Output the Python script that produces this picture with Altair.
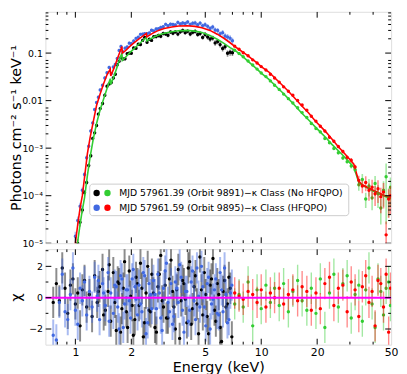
import altair as alt
import pandas as pd

# ---------------- axis ticks / labels ----------------
X_LABELS = [1, 2, 5, 10, 20, 50]
X_MAJOR = [1, 2, 5, 10, 20]
X_MINOR = [0.8, 0.9, 3, 4, 6, 7, 8, 9, 30, 40]
Y_TOP_LABELS = [1e-5, 1e-4, 1e-3, 1e-2, 1e-1]
Y_TOP_TEXT = ["10⁻⁵", "10⁻⁴", "10⁻³", "0.01", "0.1"]
Y_TOP_MINOR = [k * 10.0 ** e for e in range(-5, 0) for k in range(2, 8)]
Y_BOT_LABELS = [-2, 0, 2]
Y_BOT_TEXT = ["−2", "0", "2"]
Y_BOT_MINOR = [-1, 1, 3]

LEGEND_LABELS = ["MJD 57961.39 (Orbit 9891)−κ Class (No HFQPO)",
                 "MJD 57961.59 (Orbit 9895)−κ Class (HFQPO)"]

# ---------------- model curves ----------------
M_E = [0.98, 1.00, 1.03, 1.06, 1.09, 1.12, 1.16, 1.20, 1.25, 1.30,
       1.36, 1.42, 1.48, 1.54, 1.55, 1.62, 1.70, 1.78, 1.79, 1.86,
       1.95, 2.05, 2.20, 2.41, 2.42, 2.60, 2.80, 3.00, 3.30, 3.60,
       4.00, 4.40, 4.80, 5.30, 5.80, 6.30, 6.80, 7.20, 7.60, 8.00,
       8.50, 9.00, 9.50, 10.0, 11.0, 12.0, 13.0, 14.0, 15.0, 16.5,
       18.0, 19.7, 21.0, 22.5, 24.0, 26.0, 28.0, 30.0, 31.5, 33.5,
       35.0, 38.0, 41.0, 44.0, 47.0, 50.0]
M_RED = [5e-6, 1.0e-5, 2.5e-5, 5.5e-5, 1.0e-4, 2.4e-4, 7.6e-4, 1.66e-3, 3.7e-3, 7.9e-3,
         1.4e-2, 2.3e-2, 3.5e-2, 4.6e-2, 3.3e-2, 5.0e-2, 8.5e-2, 0.138, 0.100, 0.112,
         0.135, 0.16, 0.20, 0.26, 0.22, 0.26, 0.30, 0.33, 0.355, 0.37,
         0.375, 0.365, 0.34, 0.30, 0.25, 0.205, 0.165, 0.139, 0.119, 0.103,
         0.087, 0.073, 0.062, 0.052, 0.040, 0.0285, 0.021, 0.0158, 0.0118, 0.0078,
         0.0055, 0.0036, 0.0028, 0.0021, 0.00155, 0.00107, 0.00078, 0.00058, 0.00046, 0.00020,
         0.00017, 0.000145, 0.000125, 0.00011, 0.000098, 0.000089]
M_GREEN = [2e-6, 4e-6, 1.1e-5, 2.5e-5, 5e-5, 9e-5, 2.6e-4, 6.5e-4, 1.6e-3, 3.3e-3,
           6.5e-3, 1.1e-2, 1.8e-2, 2.9e-2, 2.2e-2, 3.4e-2, 6.0e-2, 0.10, 0.070, 0.082,
           0.10, 0.12, 0.155, 0.215, 0.18, 0.21, 0.24, 0.26, 0.28, 0.295,
           0.30, 0.29, 0.27, 0.235, 0.195, 0.16, 0.13, 0.115, 0.098, 0.083,
           0.067, 0.055, 0.046, 0.038, 0.028, 0.020, 0.0148, 0.011, 0.0083, 0.0055,
           0.0039, 0.0027, 0.0021, 0.0016, 0.0012, 0.00088, 0.00066, 0.00049, 0.00040, 0.00019,
           0.000165, 0.00014, 0.00012, 0.000105, 0.000095, 0.000086]

# ---------------- soft data (black / blue) ----------------
D_E = [1.00, 1.03, 1.06, 1.09, 1.12, 1.15, 1.18, 1.21, 1.24, 1.27,
       1.30, 1.33, 1.36, 1.40, 1.44, 1.48, 1.52, 1.56, 1.60, 1.64,
       1.68, 1.72, 1.76, 1.80, 1.85, 1.90, 1.95, 2.00, 2.06, 2.12,
       2.18, 2.24, 2.30, 2.36, 2.43, 2.50, 2.57, 2.64, 2.72, 2.80,
       2.88, 2.97, 3.06, 3.15, 3.25, 3.35, 3.45, 3.56, 3.67, 3.78,
       3.90, 4.02, 4.15, 4.28, 4.41, 4.55, 4.69, 4.84, 4.99, 5.15,
       5.31, 5.48, 5.65, 5.83, 6.01, 6.20, 6.39, 6.59, 6.80, 7.00]
BLACK = [4.8e-6, 9.9e-6, 2.75e-5, 5.0e-5, 1.17e-4, 1.9e-4, 4.3e-4, 6.9e-4, 1.6e-3, 2.1e-3,
         3.0e-3, 5.2e-3, 6.8e-3, 8.7e-3, 1.3e-2, 2.0e-2, 2.25e-2, 2.4e-2, 3.0e-2, 3.6e-2,
         5.7e-2, 6.7e-2, 0.081, 0.075, 0.076, 0.097, 0.100, 0.099, 0.128, 0.126,
         0.153, 0.152, 0.185, 0.212, 0.169, 0.195, 0.185, 0.221, 0.223, 0.235,
         0.225, 0.258, 0.251, 0.238, 0.278, 0.260, 0.279, 0.251, 0.281, 0.298,
         0.269, 0.288, 0.252, 0.274, 0.286, 0.247, 0.258, 0.214, 0.247, 0.218,
         0.198, 0.207, 0.164, 0.176, 0.151, 0.125, 0.136, 0.099, 0.104, 0.102]
BLUE = [1.4e-5, 3.0e-5, 6.0e-5, 1.3e-4, 2.8e-4, 6.3e-4, 1.1e-3, 2.3e-3, 3.4e-3, 6.5e-3,
        9.1e-3, 1.18e-2, 1.68e-2, 2.1e-2, 3.0e-2, 3.85e-2, 5.0e-2, 3.7e-2, 5.1e-2, 5.8e-2,
        7.7e-2, 0.114, 0.138, 0.107, 0.127, 0.134, 0.162, 0.159, 0.179, 0.204,
        0.215, 0.248, 0.251, 0.257, 0.255, 0.264, 0.302, 0.292, 0.322, 0.324,
        0.347, 0.358, 0.402, 0.376, 0.403, 0.400, 0.392, 0.442, 0.408, 0.429,
        0.419, 0.450, 0.402, 0.426, 0.431, 0.394, 0.427, 0.379, 0.396, 0.365,
        0.330, 0.354, 0.305, 0.298, 0.255, 0.269, 0.228, 0.218, 0.206, 0.182]
SOFT_ERR = [0.25, 0.22, 0.18, 0.15, 0.13, 0.11, 0.10, 0.09, 0.08, 0.08,
            0.08, 0.08, 0.08, 0.08, 0.08, 0.08, 0.08, 0.08, 0.08, 0.08,
            0.08, 0.08, 0.08, 0.08, 0.08, 0.08, 0.08, 0.08, 0.08, 0.08,
            0.08, 0.08, 0.08, 0.08, 0.08, 0.08, 0.08, 0.08, 0.09, 0.09,
            0.09, 0.09, 0.09, 0.09, 0.09, 0.09, 0.09, 0.10, 0.10, 0.10,
            0.10, 0.10, 0.10, 0.10, 0.11, 0.11, 0.11, 0.11, 0.12, 0.12,
            0.12, 0.12, 0.13, 0.13, 0.13, 0.14, 0.14, 0.15, 0.15, 0.15]

# ---------------- hard data (green / red) ----------------
H_E = [7.2, 7.6, 8.0, 8.5, 9.0, 9.5, 10.0, 10.6, 11.2, 11.8,
       12.5, 13.2, 14.0, 14.8, 15.7, 16.6, 17.6, 18.6, 19.7, 20.8,
       22.0, 23.3, 24.6, 26.0, 27.5, 29.0, 30.5, 32.0, 33.5, 35.0,
       36.5, 38.0, 39.5, 41.0, 42.5, 44.0, 45.5, 47.0, 48.5, 49.6]
RED_D = [0.14, 0.12, 0.102, 0.088, 0.072, 0.062, 0.052, 0.044, 0.036, 0.030,
         0.0245, 0.0195, 0.0157, 0.013, 0.0101, 0.0081, 0.0063, 0.0047, 0.0037, 0.0029,
         0.0023, 0.0017, 0.0014, 0.00108, 0.00085, 0.00064, 0.00056, 0.00040, 0.00021, 0.00016,
         0.00019, 0.00013, 0.00015, 0.00011, 0.00014, 0.000095, 0.00012, 0.000015, 0.000085, 0.0001]
GREEN_D = [0.115, 0.098, 0.084, 0.068, 0.056, 0.046, 0.038, 0.032, 0.026, 0.021,
           0.0172, 0.0137, 0.011, 0.0089, 0.0071, 0.0056, 0.0044, 0.0033, 0.0026, 0.0022,
           0.0016, 0.0013, 0.00098, 0.0008, 0.00062, 0.00052, 0.00042, 0.00035, 0.00017, 0.00022,
           0.000085, 0.00016, 0.00009, 0.00018, 0.00011, 0.000055, 0.00013, 0.00025, 0.00009, 0.00015]
HARD_ERR = [0.02, 0.02, 0.02, 0.02, 0.02, 0.02, 0.02, 0.02, 0.02, 0.02,
            0.03, 0.03, 0.03, 0.03, 0.03, 0.04, 0.04, 0.04, 0.05, 0.05,
            0.06, 0.06, 0.07, 0.08, 0.09, 0.10, 0.11, 0.12, 0.25, 0.30,
            0.35, 0.40, 0.45, 0.45, 0.50, 0.55, 0.55, 0.90, 0.60, 0.60]

# ---------------- residuals ----------------
R_E = [0.76, 0.79, 0.82, 0.85, 0.88, 0.91, 0.94, 0.97, 1.00, 1.03,
       1.06, 1.09, 1.12, 1.15, 1.19, 1.23, 1.27, 1.31, 1.35, 1.40,
       1.45, 1.50, 1.55, 1.60, 1.66, 1.72, 1.78, 1.84, 1.91, 1.98,
       2.05, 2.12, 2.20, 2.28, 2.36, 2.45, 2.54, 2.63, 2.73, 2.83,
       2.93, 3.04, 3.15, 3.27, 3.39, 3.51, 3.64, 3.77, 3.91, 4.05,
       4.20, 4.35, 4.51, 4.68, 4.85, 5.03, 5.21, 5.40, 5.60, 5.80,
       6.01, 6.23, 6.46, 6.70, 6.95,
       1.33, 1.42, 1.52, 1.63, 1.69, 1.75, 1.81, 1.88, 1.95, 2.02,
       2.09, 2.16, 2.24, 2.32, 2.40, 2.49, 2.58, 2.68, 2.78, 2.88,
       2.98, 3.09, 3.21, 3.33, 3.45, 3.58, 3.71, 3.84, 3.98, 4.12,
       4.27, 4.43, 4.60, 4.77, 4.94, 5.12, 5.31, 5.50, 5.70, 5.91,
       6.12, 6.35, 6.58, 6.82]
BLACK_R = [-0.3, 0.9, -0.2, 1.9, 0.6, -1.0, 0.8, 1.2, -0.4, 0.3,
           -1.8, 0.5, 1.1, -0.6, 0.2, -1.2, 1.4, -0.3, 0.7, 1.8,
           -0.8, 0.4, -1.5, 1.6, -2.1, 0.9, -0.7, 2.3, -1.9, 0.1,
           -2.4, 1.3, -0.5, 0.6, -1.6, 2.0, -0.9, 0.3, -2.2, 1.5,
           -0.2, 0.8, -1.3, 2.4, -0.6, 0.5, -2.6, 1.1, -0.1, 1.9,
           -1.7, 0.7, -0.4, 2.6, -1.1, 0.2, -2.3, 1.2, -0.8, 0.9,
           -1.9, 0.4, -0.6, 1.3, -2.5,
           0.4, -1.1, 2.1, -0.3, 1.0, -2.2, 0.6, -0.9, 1.7, -0.5,
           -1.4, 0.9, 2.2, -2.5, 0.3, -0.8, 1.5, -1.9, 0.7, 2.7,
           -0.6, -1.3, 1.2, 0.4, -2.0, 1.8, -0.2, 0.9, -1.6, 2.3,
           -0.7, 1.4, -2.3, 0.5, 1.6, -1.2, 0.8, 2.5, -1.5, 0.2,
           -2.8, 1.1, -0.4, 0.6]
BLUE_R = [-2.4, -2.7, -0.3, 1.5, -0.9, -1.4, 0.2, 1.9, -0.8, -1.7,
          0.6, -0.2, 1.0, -1.1, 0.4, -0.6, 1.3, 0.1, -1.4, 0.9,
          -0.5, 1.6, 0.3, -1.0, 0.7, -2.0, 1.2, -0.4, 0.5, -1.3,
          1.8, -0.1, 0.8, -0.9, 1.4, -1.6, 0.2, 1.1, -0.7, 0.3,
          -2.1, 1.7, -0.3, 0.9, -1.2, 0.6, 2.1, -0.8, 0.4, -1.5,
          1.0, -0.2, 1.9, -0.6, 0.7, -1.8, 1.3, -0.4, 0.5, -1.0,
          1.6, -0.9, 0.2, -1.4, 0.8,
          1.1, 0.3, -1.5, 0.8, -0.6, 1.4, -1.9, 0.5, -0.2, 1.2,
          0.7, -1.1, -0.4, 1.6, -2.3, 0.9, -0.7, 0.2, 1.5, -1.3,
          0.6, 2.2, -0.9, -1.7, 1.0, -0.3, 1.3, -2.2, 0.4, -0.8,
          1.7, -1.4, 0.1, 2.0, -0.6, 0.9, -2.0, -0.1, 1.2, -1.1,
          0.5, 1.9, -1.6, 0.3]
RED_R = [0.3, 0.1, -0.1, 0.4, 0.2, -0.3, 0.5, -0.6, 0.3, 0.0,
         0.6, -0.4, 0.2, 0.5, -0.2, 0.7, 0.4, -0.8, 0.3, -0.7,
         0.9, 1.3, -0.5, 0.6, 0.8, -0.9, 1.0, 0.5, -1.2, 0.7,
         1.4, -0.3, 0.4, -1.8, 1.1, 0.9, -0.6, 1.5, -2.2, 0.6]
GREEN_R = [-0.4, 0.2, -0.6, 1.0, -1.8, 0.5, -0.7, 0.8, -0.3, 0.6,
           -0.5, 0.9, -0.9, 0.4, 1.1, -0.2, -0.8, 0.6, -1.0, 1.2,
           -1.9, 0.3, 1.5, -0.6, 0.9, 1.4, -1.3, 0.2, 0.8, -1.5,
           0.5, 1.9, -0.4, -1.9, 1.2, 0.4, -1.1, 0.6, 1.0, -0.5]

# ---------------- styling ----------------
C_BLACK = "#000000"
C_BLUE = "#4169e1"
C_GREEN = "#32cd32"
C_RED = "#ff0000"
C_MAG = "#ff00ff"
FONT = "DejaVu Sans"
W = 351
H_TOP = 235
H_BOT = 97
MAJ = 6
MIN = 3

xscale = alt.Scale(type="log", domain=[0.69, 50], nice=False)
ytop_scale = alt.Scale(type="log", domain=[1e-5, 0.74], nice=False)
ybot_scale = alt.Scale(domain=[-3, 3.1], nice=False, zero=False)


def label_expr(values, texts):
    parts = []
    for v, t in zip(values, texts):
        parts.append(f"abs(datum.value - ({v})) < {abs(v) * 1e-3 + 1e-9} ? '{t}' : ")
    return "".join(parts) + "''"


ytop_axis = alt.Axis(values=Y_TOP_LABELS, labelExpr=label_expr(Y_TOP_LABELS, Y_TOP_TEXT),
                     ticks=False, domain=False, grid=False, labelFontSize=9.5, labelPadding=3,
                     labelFont=FONT, titleFont=FONT, titleFontSize=14.5, titleFontWeight="normal",
                     titlePadding=1, minExtent=21, maxExtent=21, labelColor="black", titleColor="black")
ybot_axis = alt.Axis(values=Y_BOT_LABELS, labelExpr=label_expr(Y_BOT_LABELS, Y_BOT_TEXT),
                     ticks=False, domain=False, grid=False, labelFontSize=9.5, labelPadding=3,
                     labelFont=FONT, titleFont=FONT, titleFontSize=15, titleFontWeight="normal",
                     titlePadding=1, minExtent=21, maxExtent=21, labelColor="black", titleColor="black")
xbot_axis = alt.Axis(values=X_LABELS, format="~g", ticks=False, domain=False, grid=False,
                     labelFontSize=11, labelPadding=2, labelFont=FONT, titleFont=FONT,
                     titleFontSize=14.5, titleFontWeight="normal", titlePadding=3,
                     labelColor="black", titleColor="black", labelFlush=False)

YTOP_TITLE = "Photons cm⁻² s⁻¹ keV⁻¹"


def XT(f):
    return alt.X(f, scale=xscale, axis=None)


def XB(f):
    return alt.X(f, scale=xscale, axis=xbot_axis, title="Energy (keV)")


def YT(f):
    return alt.Y(f, scale=ytop_scale, axis=ytop_axis, title=YTOP_TITLE)


def YB(f):
    return alt.Y(f, scale=ybot_scale, axis=ybot_axis, title="χ")


soft = pd.DataFrame({"E": D_E, "black": BLACK, "blue": BLUE, "err": SOFT_ERR})
hard = pd.DataFrame({"E": H_E, "red": RED_D, "green": GREEN_D, "err": HARD_ERR})
model = pd.DataFrame({"E": M_E, "red": M_RED, "green": M_GREEN})


def flux_layers(df, col, color, X, Y, size=12, bw=1.6):
    base = alt.Chart(df).transform_calculate(
        lo=f"max(datum.{col} * (1 - datum.err), 1e-7)",
        hi=f"datum.{col} * (1 + datum.err)")
    bars = base.mark_rule(color=color, opacity=0.45, strokeWidth=bw, clip=True).encode(
        x=X("E:Q"), y=Y("lo:Q"), y2="hi:Q")
    pts = base.mark_circle(color=color, size=size, opacity=1, clip=True).encode(
        x=X("E:Q"), y=Y(f"{col}:Q"))
    return [bars, pts]


def model_line(col, color):
    return alt.Chart(model).mark_line(color=color, strokeWidth=1.6, clip=True).encode(
        x=XT("E:Q"), y=YT(f"{col}:Q"))


def tick_layers(X, Y, xmaj, xmin, ymaj, ymin, h):
    layers = []
    for vals, ln in ((xmaj, MAJ), (xmin, MIN)):
        d = pd.DataFrame({"v": vals})
        layers.append(alt.Chart(d).mark_rule(color="black", strokeWidth=1, clip=True).encode(
            x=X("v:Q"), y=alt.value(0), y2=alt.value(ln)))
        layers.append(alt.Chart(d).mark_rule(color="black", strokeWidth=1, clip=True).encode(
            x=X("v:Q"), y=alt.value(h), y2=alt.value(h - ln)))
    for vals, ln in ((ymaj, MAJ), (ymin, MIN)):
        d = pd.DataFrame({"v": vals})
        layers.append(alt.Chart(d).mark_rule(color="black", strokeWidth=1, clip=True).encode(
            y=Y("v:Q"), x=alt.value(0), x2=alt.value(ln)))
        layers.append(alt.Chart(d).mark_rule(color="black", strokeWidth=1, clip=True).encode(
            y=Y("v:Q"), x=alt.value(W), x2=alt.value(W - ln)))
    return layers


# ---------------- legend ----------------
leg_df = pd.DataFrame({"label": LEGEND_LABELS})
legend = [
    alt.Chart(leg_df).transform_filter("datum.label == '" + LEGEND_LABELS[0] + "'")
    .mark_rect(fill="white", stroke="#c8c8c8", strokeWidth=1, cornerRadius=3, opacity=0.9)
    .encode(x=alt.value(45), x2=alt.value(308), y=alt.value(175), y2=alt.value(207)),
]
for i, (c1, c2, yy) in enumerate(((C_BLACK, C_GREEN, 184), (C_BLUE, C_RED, 199))):
    one = alt.Chart(leg_df).transform_filter(f"datum.label == '{LEGEND_LABELS[i]}'")
    legend.append(one.mark_circle(color=c1, size=42, opacity=1).encode(
        x=alt.value(52), y=alt.value(yy)))
    legend.append(one.mark_circle(color=c2, size=42, opacity=1).encode(
        x=alt.value(63), y=alt.value(yy)))
    legend.append(one.mark_text(align="left", baseline="middle", font=FONT, fontSize=9.4,
                                color="black").encode(
        x=alt.value(75), y=alt.value(yy), text="label:N"))

top_layers = (
    flux_layers(soft, "black", C_BLACK, XT, YT)
    + flux_layers(soft, "blue", C_BLUE, XT, YT)
    + [model_line("green", C_GREEN), model_line("red", C_RED)]
    + flux_layers(hard, "green", C_GREEN, XT, YT)
    + flux_layers(hard, "red", C_RED, XT, YT)
    + legend
    + tick_layers(XT, YT, X_MAJOR, X_MINOR, Y_TOP_LABELS, Y_TOP_MINOR, H_TOP)
)
top = alt.layer(*top_layers).properties(width=W, height=H_TOP)

# ---------------- residual panel ----------------
soft_r = pd.DataFrame({"E": R_E, "black": BLACK_R, "blue": BLUE_R})
hard_r = pd.DataFrame({"E": H_E, "red": RED_R, "green": GREEN_R})


def resid_layers(df, col, color, size=12, bw=2.0):
    base = alt.Chart(df).transform_calculate(
        lo=f"datum.{col} - 1", hi=f"datum.{col} + 1")
    bars = base.mark_rule(color=color, opacity=0.45, strokeWidth=bw, clip=True).encode(
        x=XB("E:Q"), y=YB("lo:Q"), y2="hi:Q")
    pts = base.mark_circle(color=color, size=size, opacity=1, clip=True).encode(
        x=XB("E:Q"), y=YB(f"{col}:Q"))
    return [bars, pts]


zero_line = alt.Chart(pd.DataFrame({"z": [0]})).mark_rule(color=C_MAG, strokeWidth=2).encode(
    y=YB("z:Q"))

bot_layers = (
    resid_layers(soft_r, "black", C_BLACK)
    + resid_layers(soft_r, "blue", C_BLUE)
    + resid_layers(hard_r, "green", C_GREEN, bw=1.4)
    + resid_layers(hard_r, "red", C_RED, bw=1.4)
    + [zero_line]
    + tick_layers(XB, YB, X_MAJOR, X_MINOR, Y_BOT_LABELS, Y_BOT_MINOR, H_BOT)
)
bot = alt.layer(*bot_layers).properties(width=W, height=H_BOT)

chart = alt.vconcat(top, bot, spacing=0).properties(
    padding={"left": 0, "top": 0, "right": 0, "bottom": 0}
).configure_view(stroke="#444444", strokeWidth=1.2).configure(background="white")

chart.save("out.html", embed_options={"renderer": "svg", "actions": False})
